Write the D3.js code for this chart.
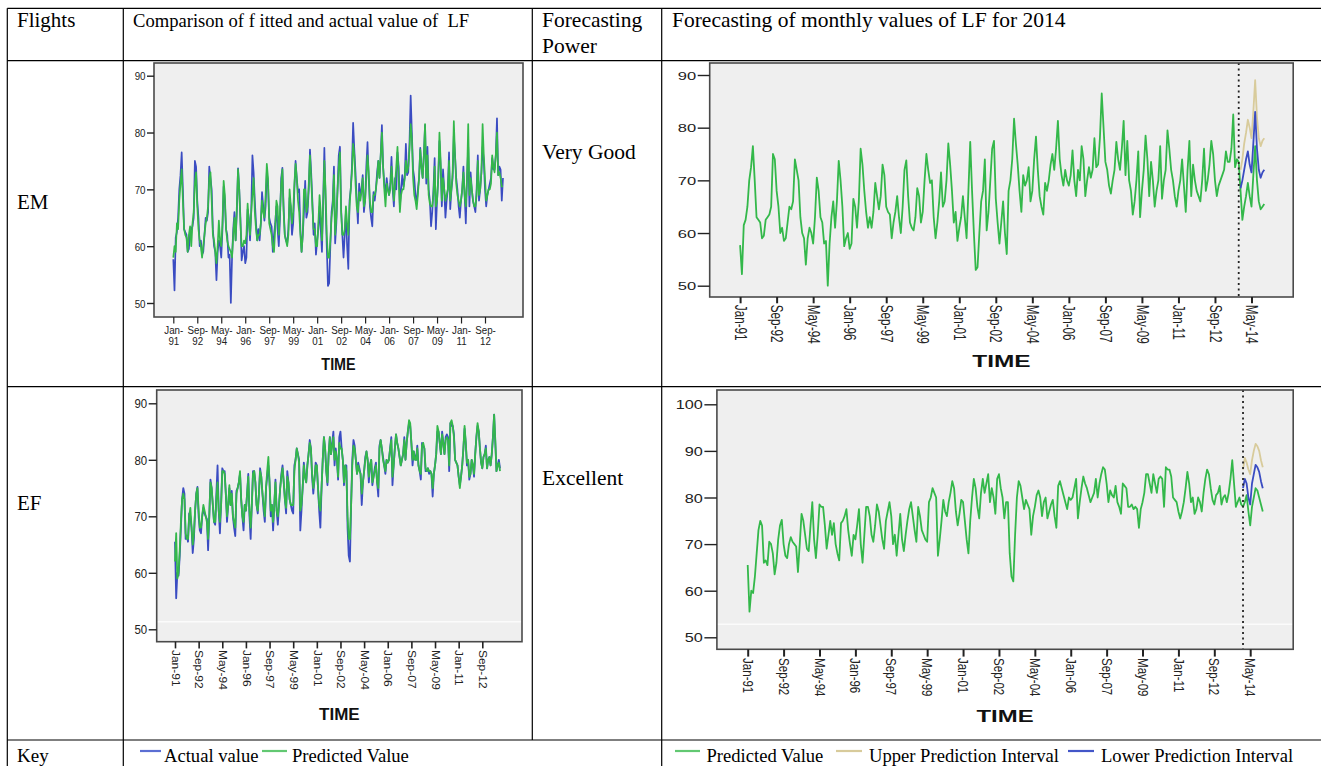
<!DOCTYPE html>
<html><head><meta charset="utf-8">
<script src="https://cdn.jsdelivr.net/npm/d3@7"></script>
<style>
body{margin:0;background:#fff;}
svg{display:block;}
text{white-space:pre;}
</style>
</head><body>
<svg id="c" width="1321" height="766"></svg>
<script>
// ---------------- DATA ----------------
const tickLabels = ["Jan-91","Sep-92","May-94","Jan-96","Sep-97","May-99","Jan-01","Sep-02","May-04","Jan-06","Sep-07","May-09","Jan-11","Sep-12"];
const tickLabelsForecast = ["Jan-91","Sep-92","May-94","Jan-96","Sep-97","May-99","Jan-01","Sep-02","May-04","Jan-06","Sep-07","May-09","Jan-11","Sep-12","May-14"];
const yTicksEM = [50,60,70,80,90];
const yTicksEF = [50,60,70,80,90,100];
const seriesStart = "Jan-91";

const emActual = [
57.7,52.2,61.5,62.5,65,70,72.5,76.5,70,63,62.5,62,
59,59.5,62.5,63,63.5,65,75,74,68,65,60,61,
58.5,59,62,65,64.5,66,74,72,70,63,60,59,
54,59,61,60,58,63,70.5,68,63,62,58,58.5,
50,58,63,66,61,66,73.7,70,65,57.5,59,60,
57,58,66.5,65,61,66,76,73,68,64,61,63,
61,64,69.5,67,64.5,67,73,71,65,64,63.5,59,
62,64,67,63,60,65,72,73.8,67,62,61,60.5,
63,68.5,67,62,64,70,75,72,69.5,70,63,59,
62,66,71.5,65,66,70,77,73,68,62,64,58.5,
61,63,67,63,59,68,77.3,68,60,53,53.5,60,
66,68,74,60.5,64,70,76,77.5,66.5,62,58,62,
66,60,56,68,70,74,81.7,77,73,68,64,71,
69,70,72.5,66,68,74,78.3,72,67,65,63.5,69.5,
68,70,73,75,72,76,81.3,74,71,69,72,70,
69,71,75.7,70,67,72,70,76.5,74,67,70,72.5,
70.5,72,78,72.5,73,78,86.5,80,73.5,72,69,67.5,
70,72,77.3,74,72,76,81.3,71,77.5,70,68,63.5,
66,70,75.5,63,68,72,78.5,74,67,73.5,70,65,
68,70,76.5,66.5,70,72,79.5,76,72,70,67,65,
68,70,74,69,64,72,77.5,67,73,70,68,67,
66,70,76,68,70,73,77.5,75,70,67,69,70,
71,72,75.5,73.5,73.5,76,82.5,72.5,74,73.5,68,72];

const emPredicted = [
58,60,59,64,63,68,71,73.5,68,63,62,61.5,
59,62,63.5,60,64,66,71,73,67,63,61,60,
58,60,62,64,65,67,72,73,68,62,61,59,
57,60,64.5,61,60,64,71.5,69,63,61,60,59.5,
59,58,62,65,61,67,73.5,70,64,60,60,61,
60.5,62,67.5,64,62,66,69,72,66,63,61,62,
62,64,68,66,65,69,74.5,72,64,63,62,60,
59,63,68,67,62,66,71,73.5,66,62,61,60,
62,70,67,64,66,71,74.5,72,68,66,62,59,
62,70,70,66,67,71,76,72,67,63,63,60,
60,64,69,66,61,67,75,70,62,58,58,61,
65,67,72.5,62,65,70,74,76.5,66,62,62,63,
67,64,62,67,70,73,78,76,71,67,66,69.5,
68,69.5,72,67,68,72,76,73,68,66,66,69,
69,70,72,75,72,76,80,74,70,67,71,70,
69,70,74,71,68,71,74,77.5,72,66,69,70,
70,72,75,73,74,77,81.5,79,72,69,68,66.5,
69,72,77,74,72,76,81.5,72,76,69,67.5,67,
67,69,74,67,68,72,80,75,68,72,70,68,
69,70,75,68,70,73,82,76,71,69,68,67,
68,70,73,69,67,72,81.5,69,72,70,68,67,
67,69,75,69,70,73,81.5,76,72,68,69,70,
70,71,76,74,73,76,80,72.5,73,72,70.5,70.5];

const efActual = [
65.5,55.5,60,59.5,63,68,73,75,74,66,66.5,65.5,
70.5,70,68,63.5,66,71,74,75.2,70,67.5,67,70,
71.5,70.5,70,69.5,64,70,76.5,75,72,69,68.5,74,
79,71,67,72,78.5,78,78,74,69,72,75,72,
74.5,70,68,66.5,74.5,75,76,77.5,73,70,67.5,72,
71,74,77.5,70,66,72,78,78,76,72,70.5,74,
78.5,77,74,71,69,75,77,79,76,70,72,67.5,
72,76.5,71,68.5,72,75,77.5,79,76,73,70.5,78,
76,73,72,71,70.5,79,80,82,81,80,67.5,71,
75,79.5,77,76,79,81,83.5,82,77,74,76.5,79.5,
79,75,71,68,75,80,84,82,78,75.5,81,84,
81,83,85,79,82,80,76.5,84,85,82,80,75.5,
79,79,68,63,62,72,80,83.5,82.5,80,77.5,79.5,
78.5,77.5,72,76,78,80.5,81.5,80,76,79,80,75.5,
77,78.5,79.5,76,73.5,82.5,83.5,82,80.5,79,77.5,80,
79.5,80,82,84,75.5,79,82,84.5,83,82,80.5,79,
80,81,84,80,83,85,86.5,86,83,79,81.5,80.5,
80,82.5,79,78,76.5,83,82.5,82,78,78,78.5,77.5,
78,77.5,73.5,77.5,79,81,85,85,83,81,85,83,
81,84,84.5,84,78,86.5,86,86,84.5,80,79.5,79,
77,75.5,77,79,82,85.5,83,79,80,76.5,77.5,80,
79,77,81,84,86,85,82,79.5,78.5,80.5,81,82.5,
78.5,80,80.5,79,81,84,88,83,78,79,80,78.5];

const efPredicted = [
62,67,59,60,64,69,73,74,73,67,66,66,
70,71.5,68,65,67,71,74,75,71,68,68,70,
72,71,70,69,66,70,76,75,72,69,69,73,
76,71,69,72,78,78,77.5,74,70,72,75.5,72,
74,70,69,68,74,75,76,78,73,70,69,72,
71,74,77,71,68,72,77.5,78,76,72,71,74,
78,77,74,72,70,75,78,80.5,76,71,72,69,
72,76,71,70,72,75,77,78.5,76,73,71.5,77,
76,73,72,72,72,78,80,82,81,79.5,71,72,
75,79,77,76,79,81,83,82,77.5,75,76.5,79,
79,75,72,71,75,80,84,82,78,76,81,84,
81,82.5,84,80,81.5,80,77,83,82,82,80,76,
79,78,70,66,66,72,79,82.5,82,80,77.5,79,
78,77.5,74,76,78,80,81.5,80,77,79,80,76,
77,78,79,76,75,82,83.5,82,80,79,78,80,
79.5,80,82,83.5,77,79,82,84.5,83,82,80.5,79,
80,81,83.5,80,83,85,87,86.5,83,80,81.5,80,
80,82,79,78,77.5,82.5,83,82,78.5,78,78.5,78,
78,77.5,75,77.5,79,81,86,85,83,81,84.5,83,
81,83.5,84,83.5,79,86.5,87,86,84,80,79.5,79,
77,75,77,79,82,86,83,79.5,80,77,77.5,80,
79,77.5,81,84,86.5,85,82,79.5,78.5,80.5,81,82,
78.5,80,80.5,79,81,84,88,83.5,78,79,79.5,78];

// forecasts (2014 window)
const emForecastStart = "Nov-13";
const emForecast = [68,62.5,65,67,69.5,67,65,71,76.5,70,66,64.5,65,65.5];
const emUpper    = [72,74,77,79,81.5,80,78,83,89,82,78,76.5,77.5,78];
const emLower    = [68.5,70,72,74,75.5,73,71.5,77,83,76,72,70.5,71.5,72];
const emDivider  = "Oct-13";

const efForecastStart = "Jan-14";
const efForecast = [78,79,80.5,77,74,78,80,82,81.5,80,78.5,77];
const efUpper    = [86,88.5,87.5,86,85,88,90,91.5,91,90,88,86.5];
const efLower    = [82,84,83,80,78.5,83,85,87,86.5,85.5,83.5,82];
const efDivider  = "Jan-14";

const headers = ["Flights","Comparison of f itted and actual value of  LF","Forecasting","Power","Forecasting of monthly values of LF for 2014"];
const rowNames = ["EM","EF"];
const powers = ["Very Good","Excellent"];
const keyLeft = ["Actual value","Predicted Value"];
const keyRight = ["Predicted Value","Upper Prediction Interval","Lower Prediction Interval"];

// ---------------- HELPERS ----------------
const parseM = d3.timeParse("%b-%y");
const base = parseM(seriesStart);
function mIdx(lbl){ const d = parseM(lbl); return (d.getFullYear()-base.getFullYear())*12 + d.getMonth()-base.getMonth(); }

const C_BLUE = "#3a4cc2", C_GREEN = "#33b84a", C_TAN = "#d8cb9b";
const svg = d3.select("#c");

// ---------------- TABLE ----------------
const T = {x0:7.3, c1:123.3, c2:532.3, c3:661.7, xr:1321, y0:8.3, r1:60.7, r2:386.7, r3:740, yb:766};
const tg = svg.append("g").attr("stroke","#000").attr("stroke-width",1.2);
[[T.x0,T.y0,T.x0,T.yb],[T.c1,T.y0,T.c1,T.yb],[T.c2,T.y0,T.c2,T.r3],[T.c3,T.y0,T.c3,T.yb],
 [T.x0,T.y0,T.xr,T.y0],[T.x0,T.r1,T.xr,T.r1],[T.x0,T.r2,T.xr,T.r2],[T.x0,T.r3,T.xr,T.r3]]
 .forEach(l=>tg.append("line").attr("x1",l[0]).attr("y1",l[1]).attr("x2",l[2]).attr("y2",l[3]));

const serif = "'Liberation Serif','Times New Roman',serif";
function ttext(x,y,s,size){ svg.append("text").attr("x",x).attr("y",y).attr("font-family",serif).attr("font-size",size).attr("fill","#000").text(s); }
ttext(17,27,headers[0],21);
ttext(133,27,headers[1],18.6);
ttext(542,27,headers[2],21.5);
ttext(542,53,headers[3],21.5);
ttext(672,27,headers[4],21.5);
ttext(17,209,rowNames[0],21);
ttext(542,159,powers[0],21.5);
ttext(17,510,rowNames[1],21);
ttext(542,485,powers[1],21.5);
ttext(17,762,"Key",19);

// key
function keyItem(x1,x2,color,tx,label){
  svg.append("line").attr("x1",x1).attr("x2",x2).attr("y1",751).attr("y2",751).attr("stroke",color).attr("stroke-width",2.2);
  ttext(tx,762,label,18.6);
}
keyItem(140,161,"#5b6ed3",164,keyLeft[0]);
keyItem(262,287,"#62c872",292,keyLeft[1]);
keyItem(675,700,"#62c872",706.5,keyRight[0]);
keyItem(836,862,C_TAN,869,keyRight[1]);
keyItem(1068,1094,"#4356c8",1101,keyRight[2]);

// ---------------- CHARTS ----------------
function chart(cfg){
  const g = svg.append("g");
  const F = cfg.frame;
  const ticks = cfg.xLabels.map(mIdx);
  const x = d3.scaleLinear().domain([0, ticks[ticks.length-1]]).range(cfg.xPx);
  const y = d3.scaleLinear().domain([50, cfg.yTicks[cfg.yTicks.length-1]]).range(cfg.yPx);
  g.append("rect").attr("x",F[0]).attr("y",F[1]).attr("width",F[2]-F[0]).attr("height",F[3]-F[1])
    .attr("fill","#efefef");
  if(cfg.artifact!==undefined){
    g.append("line").attr("x1",F[0]).attr("x2",F[2]).attr("y1",cfg.artifact).attr("y2",cfg.artifact)
     .attr("stroke","#fbfbfb").attr("stroke-width",1.5);
  }
  const line = d3.line().x(d=>x(d[0])).y(d=>y(d[1]));
  cfg.series.forEach(s=>{
    const pts = s.values.map((v,i)=>[s.start+i, v]);
    g.append("path").attr("d",line(pts)).attr("fill","none").attr("stroke",s.color)
      .attr("stroke-width",cfg.lw).attr("stroke-linejoin","round");
  });
  if(cfg.divider!==undefined){
    g.append("line").attr("x1",x(cfg.divider)).attr("x2",x(cfg.divider)).attr("y1",F[1]).attr("y2",F[3])
      .attr("stroke","#222").attr("stroke-width",1.8).attr("stroke-dasharray","2,3.5");
  }
  g.append("rect").attr("x",F[0]).attr("y",F[1]).attr("width",F[2]-F[0]).attr("height",F[3]-F[1])
    .attr("fill","none").attr("stroke","#4a4a4a").attr("stroke-width",1.6);
  const font = "'Liberation Sans',Arial,sans-serif";
  // y axis
  const ya = g.append("g").attr("transform",`translate(${F[0]},0)`)
    .call(d3.axisLeft(y).tickValues(cfg.yTicks).tickSize(cfg.yTick).tickPadding(1).tickFormat(d3.format("d")));
  ya.select(".domain").remove();
  ya.selectAll(".tick line").attr("stroke","#222").attr("stroke-width",1.4);
  ya.selectAll(".tick text").attr("x",null).attr("dy",null)
    .attr("transform",`translate(${-(cfg.yTick+1.5)},0) scale(${cfg.sx},1)`)
    .attr("dy","0.36em").attr("font-family",font).attr("font-size",cfg.yFont).attr("fill","#222");
  // x axis
  const xa = g.append("g").attr("transform",`translate(0,${F[3]})`)
    .call(d3.axisBottom(x).tickValues(ticks).tickSize(cfg.xTick).tickFormat((d,i)=>cfg.xLabels[i]));
  xa.select(".domain").remove();
  xa.selectAll(".tick line").attr("stroke","#222").attr("stroke-width",cfg.xTickW);
  const xt = xa.selectAll(".tick text").attr("font-family",font).attr("font-size",cfg.xFont).attr("fill","#222");
  if(cfg.rotate){
    xt.attr("y",null).attr("dy","0.36em").attr("x",0)
      .attr("transform",`translate(0,${cfg.xTick+1.5}) scale(${cfg.sx},1) rotate(90)`)
      .attr("text-anchor","start");
  } else {
    xt.each(function(d,i){
      const parts = cfg.xLabels[i].split("-");
      const t = d3.select(this).text(null).attr("y",null).attr("dy",null)
        .attr("transform",`scale(${cfg.sx},1)`);
      t.append("tspan").attr("x",0).attr("y",cfg.xLine1).text(parts[0]+"-");
      t.append("tspan").attr("x",0).attr("y",cfg.xLine2).text(parts[1]);
    });
  }
  g.append("text").attr("transform",`translate(${(F[0]+F[2])/2},${cfg.titleY}) scale(${cfg.titleSx},1)`)
    .attr("text-anchor","middle").attr("font-family",font).attr("font-weight","bold")
    .attr("font-size",cfg.titleFont).attr("fill","#111").text("TIME");
}

const s0 = mIdx(seriesStart);
// Top-left: EM fitted vs actual
chart({frame:[154,63,523,317], xLabels:tickLabels, xPx:[173.3,485], yTicks:yTicksEM, yPx:[303,75.7],
  series:[{values:emActual,start:s0,color:C_BLUE},{values:emPredicted,start:s0,color:C_GREEN}],
  lw:1.7, yTick:7, yFont:11.5, sx:0.85, xTick:6.5, xTickW:1.2, xFont:11.5, rotate:false, xLine1:17, xLine2:28,
  titleY:370, titleFont:16.5, titleSx:0.87});

// Top-right: EM forecast
const emCut = mIdx(emForecastStart);
chart({frame:[709.7,63,1293.2,297], xLabels:tickLabelsForecast, xPx:[740.1,1251.5], yTicks:yTicksEM, yPx:[285.7,75],
  series:[{values:emActual.slice(0,emCut).concat(emForecast),start:s0,color:C_GREEN},
          {values:emUpper,start:emCut,color:C_TAN},{values:emLower,start:emCut,color:C_BLUE}],
  divider:mIdx(emDivider),
  lw:1.8, yTick:12, yFont:11.8, sx:1.4, xTick:6.3, xTickW:2, xFont:11.7, rotate:true,
  titleY:366.7, titleFont:16.3, titleSx:1.5});

// Bottom-left: EF fitted vs actual
chart({frame:[156.7,390,522,641.7], xLabels:tickLabels, xPx:[175,482.3], yTicks:yTicksEM, yPx:[629.3,403.3],
  series:[{values:efActual,start:s0,color:C_BLUE},{values:efPredicted,start:s0,color:C_GREEN}],
  artifact:621.7,
  lw:1.8, yTick:8, yFont:13, sx:0.88, xTick:6.7, xTickW:1.6, xFont:12, rotate:true,
  titleY:720, titleFont:17, titleSx:1.0});

// Bottom-right: EF forecast
const efCut = mIdx(efForecastStart);
chart({frame:[716.9,390,1293.2,649.3], xLabels:tickLabelsForecast, xPx:[747.7,1250.2], yTicks:yTicksEF, yPx:[637.3,404.3],
  series:[{values:efActual.slice(0,efCut).concat(efForecast),start:s0,color:C_GREEN},
          {values:efUpper,start:efCut,color:C_TAN},{values:efLower,start:efCut,color:C_BLUE}],
  divider:mIdx(efDivider), artifact:624.3,
  lw:1.8, yTick:12.5, yFont:12.5, sx:1.3, xTick:7.3, xTickW:2, xFont:11.5, rotate:true,
  titleY:722.3, titleFont:17.2, titleSx:1.39});
</script>
</body></html>
